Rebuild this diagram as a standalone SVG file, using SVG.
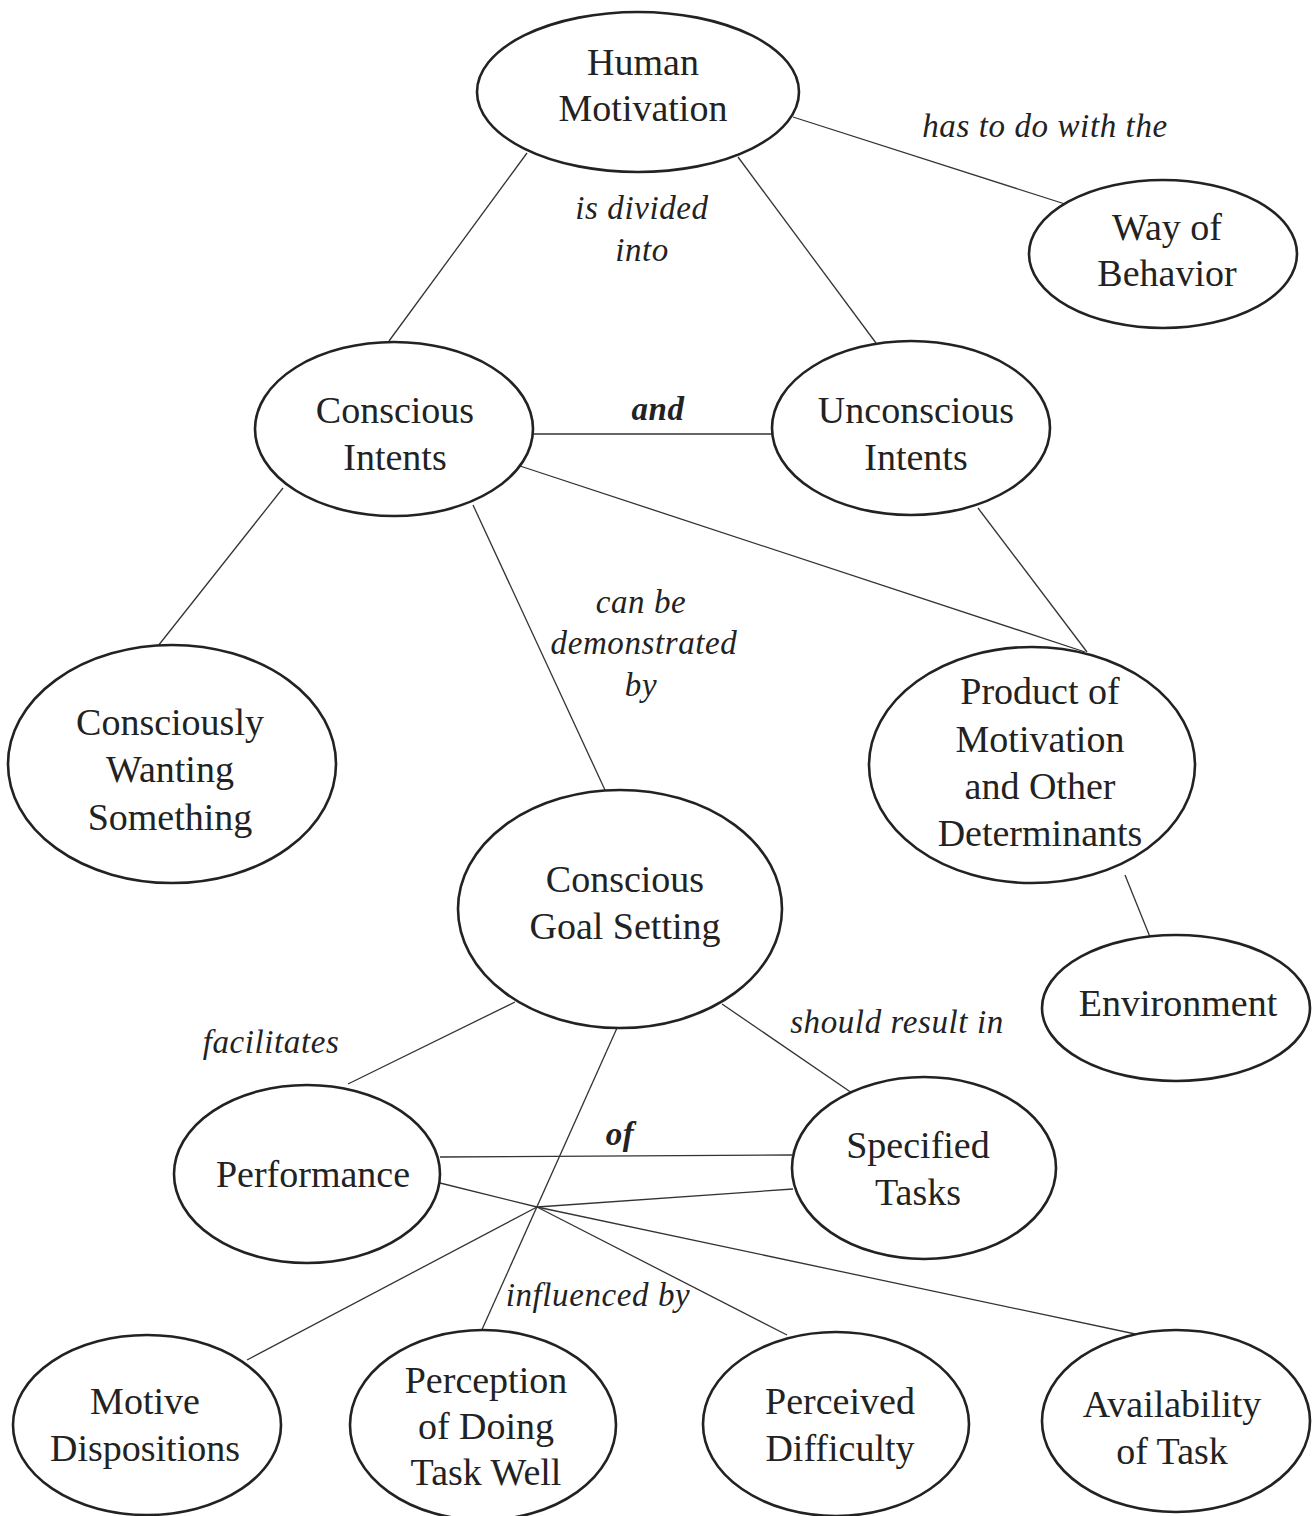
<svg xmlns="http://www.w3.org/2000/svg" width="1315" height="1516" viewBox="0 0 1315 1516">
<style>
.n ellipse{fill:#fff;stroke:#222;stroke-width:2.6}
.n text{font-family:"Liberation Serif","Times New Roman",serif;font-size:38px;fill:#222;text-anchor:middle}
.e line{stroke:#333;stroke-width:1.3}
.l{font-family:"Liberation Serif","Times New Roman",serif;font-size:33px;font-style:italic;fill:#222;text-anchor:middle;letter-spacing:0.6px}
.b{font-weight:bold}
</style>
<rect width="1315" height="1516" fill="#fff"/>
<g id="connectors" class="e">
<line x1="527" y1="153" x2="389" y2="341"/>
<line x1="738" y1="157" x2="876" y2="343"/>
<line x1="793" y1="117" x2="1065" y2="204"/>
<line x1="533" y1="434" x2="772" y2="434"/>
<line x1="283" y1="488" x2="158" y2="646"/>
<line x1="473" y1="505" x2="605" y2="790"/>
<line x1="520" y1="466" x2="1085" y2="652"/>
<line x1="978" y1="508" x2="1087" y2="652"/>
<line x1="1125" y1="875" x2="1150" y2="937"/>
<line x1="515" y1="1002" x2="348" y2="1084"/>
<line x1="722" y1="1004" x2="852" y2="1093"/>
<line x1="617" y1="1028" x2="480" y2="1334"/>
<line x1="440" y1="1157" x2="792" y2="1155"/>
<line x1="440" y1="1183" x2="537" y2="1207"/>
<line x1="537" y1="1207" x2="793" y2="1189"/>
<line x1="537" y1="1207" x2="247" y2="1360"/>
<line x1="537" y1="1207" x2="787" y2="1335"/>
<line x1="537" y1="1207" x2="1140" y2="1335"/>
</g>
<g id="human-motivation" class="n"><ellipse cx="638" cy="92" rx="161" ry="80"/><text x="643" y="75">Human</text><text x="643" y="121">Motivation</text></g>
<g id="way-of-behavior" class="n"><ellipse cx="1163" cy="254" rx="134" ry="74"/><text x="1167" y="240">Way of</text><text x="1167" y="286">Behavior</text></g>
<g id="conscious-intents" class="n"><ellipse cx="394" cy="429" rx="139" ry="87"/><text x="395" y="423">Conscious</text><text x="395" y="470">Intents</text></g>
<g id="unconscious-intents" class="n"><ellipse cx="911" cy="428" rx="139" ry="87"/><text x="916" y="423">Unconscious</text><text x="916" y="470">Intents</text></g>
<g id="consciously-wanting" class="n"><ellipse cx="172" cy="764" rx="164" ry="119"/><text x="170" y="735">Consciously</text><text x="170" y="782">Wanting</text><text x="170" y="830">Something</text></g>
<g id="product" class="n"><ellipse cx="1032" cy="765" rx="163" ry="118"/><text x="1040" y="704">Product of</text><text x="1040" y="752">Motivation</text><text x="1040" y="799">and Other</text><text x="1040" y="846">Determinants</text></g>
<g id="goal-setting" class="n"><ellipse cx="620" cy="909" rx="162" ry="119"/><text x="625" y="892">Conscious</text><text x="625" y="939">Goal Setting</text></g>
<g id="environment" class="n"><ellipse cx="1176" cy="1008" rx="134" ry="73"/><text x="1178" y="1016">Environment</text></g>
<g id="performance" class="n"><ellipse cx="307" cy="1174" rx="133" ry="89"/><text x="313" y="1187">Performance</text></g>
<g id="specified-tasks" class="n"><ellipse cx="924" cy="1168" rx="132" ry="91"/><text x="918" y="1158">Specified</text><text x="918" y="1205">Tasks</text></g>
<g id="motive-dispositions" class="n"><ellipse cx="147" cy="1425" rx="134" ry="90"/><text x="145" y="1414">Motive</text><text x="145" y="1461">Dispositions</text></g>
<g id="perception" class="n"><ellipse cx="483" cy="1425" rx="133" ry="95"/><text x="486" y="1393">Perception</text><text x="486" y="1439">of Doing</text><text x="486" y="1485">Task Well</text></g>
<g id="perceived-difficulty" class="n"><ellipse cx="836" cy="1424" rx="133" ry="92"/><text x="840" y="1414">Perceived</text><text x="840" y="1461">Difficulty</text></g>
<g id="availability" class="n"><ellipse cx="1176" cy="1421" rx="134" ry="91"/><text x="1172" y="1417">Availability</text><text x="1172" y="1464">of Task</text></g>
<g id="labels">
<text class="l" x="1045" y="137">has to do with the</text>
<text class="l" x="642" y="219">is divided</text>
<text class="l" x="642" y="261">into</text>
<text class="l b" x="658" y="420">and</text>
<text class="l" x="641" y="613">can be</text>
<text class="l" x="644" y="654">demonstrated</text>
<text class="l" x="641" y="696">by</text>
<text class="l" x="271" y="1053">facilitates</text>
<text class="l" x="897" y="1033">should result in</text>
<text class="l b" x="620" y="1145">of</text>
<text class="l" x="598" y="1306">influenced by</text>
</g>
</svg>
